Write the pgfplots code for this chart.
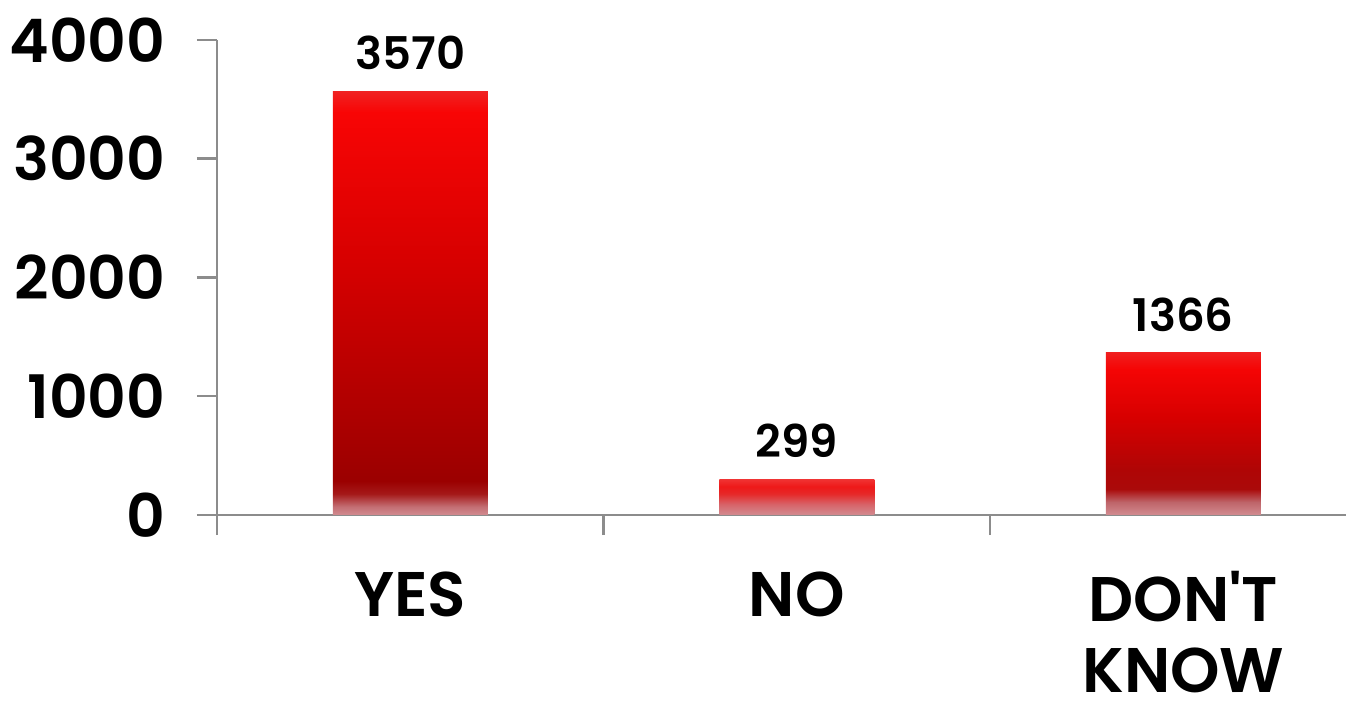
\documentclass[border=0pt]{standalone}
\usepackage{fontspec}
\setmainfont{Poppins}[BoldFont={Poppins SemiBold}]
\usepackage{pgfplots}
\pgfplotsset{compat=1.18}

\definecolor{axgray}{RGB}{140,140,140}
\definecolor{barpink}{RGB}{210,140,145}

% each bar is mapped onto 25bp..75bp of its shading
\pgfdeclareverticalshading{shadeyes}{100bp}{%
  color(0bp)=(barpink); color(25bp)=(barpink); color(26bp)=(rgb,255:red,195;green,110;blue,115);
  color(27.5bp)=(rgb,255:red,165;green,25;blue,25); color(29bp)=(rgb,255:red,155;green,0;blue,0);
  color(37.5bp)=(rgb,255:red,175;green,0;blue,0); color(55bp)=(rgb,255:red,215;green,0;blue,0);
  color(72.5bp)=(rgb,255:red,248;green,5;blue,5); color(75bp)=(rgb,255:red,240;green,35;blue,35);
  color(100bp)=(rgb,255:red,240;green,35;blue,35)}
\pgfdeclareverticalshading{shadeno}{100bp}{%
  color(0bp)=(barpink); color(25bp)=(barpink); color(40bp)=(rgb,255:red,215;green,100;blue,105);
  color(55bp)=(rgb,255:red,230;green,40;blue,40); color(65bp)=(rgb,255:red,238;green,25;blue,25);
  color(75bp)=(rgb,255:red,240;green,50;blue,50); color(100bp)=(rgb,255:red,240;green,50;blue,50)}
\pgfdeclareverticalshading{shadedk}{100bp}{%
  color(0bp)=(barpink); color(25bp)=(barpink); color(29bp)=(rgb,255:red,190;green,100;blue,105);
  color(33bp)=(rgb,255:red,170;green,10;blue,10); color(39bp)=(rgb,255:red,175;green,5;blue,5);
  color(55bp)=(rgb,255:red,215;green,0;blue,0); color(70bp)=(rgb,255:red,245;green,5;blue,5);
  color(75bp)=(rgb,255:red,240;green,30;blue,30); color(100bp)=(rgb,255:red,240;green,30;blue,30)}

\begin{document}
\begin{tikzpicture}[x=1pt,y=1pt]
\useasboundingbox (0,0) rectangle (1360,701);
\begin{axis}[
  at={(217pt,186pt)}, anchor=south west,
  scale only axis, width=1128.6pt, height=475pt,
  xmin=-0.5, xmax=2.42, ymin=0, ymax=4000,
  axis lines=left,
  axis line style={-, draw=axgray, line width=2.5pt},
  tick align=outside, major tick length=20pt,
  tick style={draw=axgray, line width=2.5pt},
  xtick={-0.5,0.5,1.5}, xticklabels={},
  extra x ticks={0,1,2},
  extra x tick labels={YES,NO,{DON\textquotesingle T\\KNOW}},
  extra x tick style={major tick length=0pt,
    tick label style={font=\fontsize{63}{71}\selectfont\bfseries,
      align=center, anchor=north, yshift=-53pt}},
  ytick={0,1000,2000,3000,4000},
  yticklabel style={font=\fontsize{60}{64}\selectfont\bfseries, anchor=east, xshift=-28pt},
  /pgf/number format/1000 sep={},
  /pgf/number format/assume math mode=true,
  clip=false,
  every axis plot/.append style={ybar, bar width=155pt, draw=none,
    nodes near coords,
    nodes near coords style={font=\fontsize{45}{48}\selectfont\bfseries, anchor=south, yshift=18pt}},
]
\addplot[shading=shadeyes] coordinates {(0,3570)};
\addplot[shading=shadeno] coordinates {(1,299)};
\addplot[shading=shadedk] coordinates {(2,1366)};
\end{axis}
\end{tikzpicture}
\end{document}
